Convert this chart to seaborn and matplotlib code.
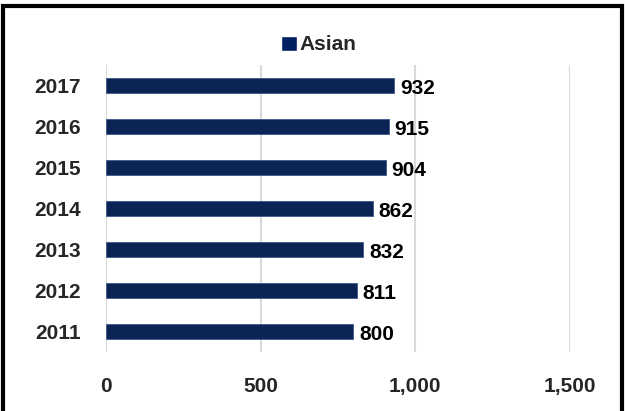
import matplotlib
matplotlib.use("Agg")
import matplotlib.pyplot as plt
import seaborn as sns
import pandas as pd
from matplotlib.patches import Rectangle
from matplotlib.ticker import FuncFormatter

years = ["2017", "2016", "2015", "2014", "2013", "2012", "2011"]
values = [932, 915, 904, 862, 832, 811, 800]
series_name = "Asian"
x_ticks = [0, 500, 1000, 1500]

df = pd.DataFrame({"Year": years, "Value": values, "Series": series_name})

sns.set_theme(style="white")
plt.rcParams["font.family"] = ["Liberation Sans", "DejaVu Sans"]

fig = plt.figure(figsize=(6.25, 4.11), dpi=100)
ax = fig.add_axes([106/625, 1-352/411, (570-106)/625, (352-65)/411])

color = "#002060"
sns.barplot(data=df, x="Value", y="Year", hue="Series", order=years,
            palette=[color], width=0.38, ax=ax, legend=False,
            edgecolor="#3a5a8c", linewidth=0.6)

ax.set_xlim(0, 1500)
ax.set_ylim(len(years) - 0.5, -0.5)
ax.set_xticks(x_ticks)
ax.xaxis.set_major_formatter(FuncFormatter(lambda v, p: f"{int(v):,}"))
ax.grid(axis="x", color="#d9d9d9", linewidth=1.5)
ax.set_axisbelow(True)
for s in ax.spines.values():
    s.set_visible(False)
ax.tick_params(axis="both", length=0, labelsize=15)
ax.tick_params(axis="x", pad=18)
ax.tick_params(axis="y", pad=18)
for lbl in ax.get_xticklabels() + ax.get_yticklabels():
    lbl.set_fontweight("bold")
ax.set_xlabel("")
ax.set_ylabel("")

for cont in ax.containers:
    txts = ax.bar_label(cont, labels=[f"{v:,}" for v in values], padding=4,
                        fontsize=15, fontweight="bold", color="black")
    for t in txts:
        t.xyann = (t.xyann[0], -2)

handle = Rectangle((0, 0), 1, 1, facecolor=color)
fig.legend([handle], [series_name], loc="center", bbox_to_anchor=(319/625, 1-45/411),
           frameon=False, prop={"size": 15, "weight": "bold"},
           handlelength=0.75, handleheight=0.75, handletextpad=0.15)

fig.patches.append(Rectangle((3/625, -0.05), 619/625, 1.05 - 6/411,
                             transform=fig.transFigure, fill=False,
                             edgecolor="black", linewidth=3))

fig.savefig("out.png", dpi=100)
